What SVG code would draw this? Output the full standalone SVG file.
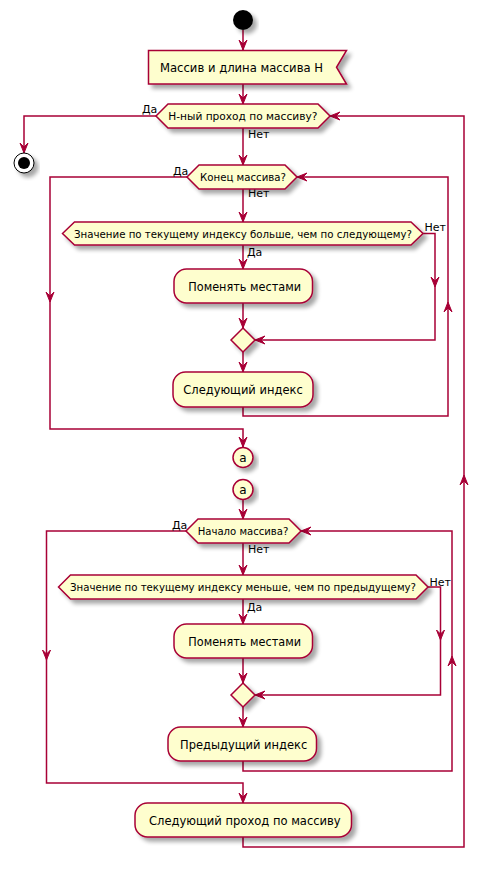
<svg xmlns="http://www.w3.org/2000/svg" xmlns:xlink="http://www.w3.org/1999/xlink" width="489" height="870" viewBox="0 0 489 870">
<style>
.n{fill:#FEFECE;stroke:#A80036;stroke-width:1.5;filter:url(#sh)}
.t{font-family:"DejaVu Sans","Liberation Sans",sans-serif;font-size:12px;fill:#000}
.d{font-family:"DejaVu Sans","Liberation Sans",sans-serif;font-size:11px;fill:#000}
.dl{font-family:"DejaVu Sans","Liberation Sans",sans-serif;font-size:10.4px;fill:#000}
.l{font-family:"DejaVu Sans","Liberation Sans",sans-serif;font-size:11px;fill:#000}
.c{fill:none;stroke:#A80036;stroke-width:1.5}
.a{fill:#A80036;stroke:#A80036;stroke-width:1}
</style>
<defs>
<filter id="sh" x="-20%" y="-20%" width="150%" height="160%">
<feGaussianBlur in="SourceAlpha" stdDeviation="2"/>
<feOffset dx="4" dy="4" result="b"/>
<feComponentTransfer><feFuncA type="linear" slope="0.35"/></feComponentTransfer>
<feMerge><feMergeNode/><feMergeNode in="SourceGraphic"/></feMerge>
</filter>
<path id="ah" d="M-4,-10 L0,0 L4,-10 L0,-6 Z"/>
</defs>
<rect width="489" height="870" fill="#FFFFFF"/>

<g id="connectors">
<path class="c" d="M243,30 V50"/>
<path class="c" d="M243,84 V104"/>
<path class="c" d="M156,116 H24 V153"/>
<path class="c" d="M243,128 V165"/>
<path class="c" d="M187,177 H50 V429 H243 V447"/>
<path class="c" d="M243,189 V222"/>
<path class="c" d="M243,245 V269"/>
<path class="c" d="M423,233.5 H435 V340 H255"/>
<path class="c" d="M243,303 V328"/>
<path class="c" d="M243,352 V372"/>
<path class="c" d="M243,407 V416 H448 V177 H297"/>
<path class="c" d="M243,499.5 V519"/>
<path class="c" d="M186,531 H46.5 V783 H243 V803"/>
<path class="c" d="M243,543 V575"/>
<path class="c" d="M243,599 V624"/>
<path class="c" d="M428,587 H440.5 V695 H255"/>
<path class="c" d="M243,658 V683"/>
<path class="c" d="M243,707 V727"/>
<path class="c" d="M243,761 V771 H452 V531 H301"/>
<path class="c" d="M243,837 V847 H464 V116 H330"/>
<g class="a">
<use xlink:href="#ah" transform="translate(243,50)"/>
<use xlink:href="#ah" transform="translate(243,104)"/>
<use xlink:href="#ah" transform="translate(24,153)"/>
<use xlink:href="#ah" transform="translate(243,165)"/>
<use xlink:href="#ah" transform="translate(50,302)"/>
<use xlink:href="#ah" transform="translate(243,447)"/>
<use xlink:href="#ah" transform="translate(243,222)"/>
<use xlink:href="#ah" transform="translate(243,269)"/>
<use xlink:href="#ah" transform="translate(435,287)"/>
<use xlink:href="#ah" transform="translate(255,340) rotate(90)"/>
<use xlink:href="#ah" transform="translate(243,328)"/>
<use xlink:href="#ah" transform="translate(243,372)"/>
<use xlink:href="#ah" transform="translate(448,302) rotate(180)"/>
<use xlink:href="#ah" transform="translate(297,177) rotate(90)"/>
<use xlink:href="#ah" transform="translate(243,519)"/>
<use xlink:href="#ah" transform="translate(46.5,660)"/>
<use xlink:href="#ah" transform="translate(243,803)"/>
<use xlink:href="#ah" transform="translate(243,575)"/>
<use xlink:href="#ah" transform="translate(243,624)"/>
<use xlink:href="#ah" transform="translate(440.5,640)"/>
<use xlink:href="#ah" transform="translate(255,695) rotate(90)"/>
<use xlink:href="#ah" transform="translate(243,683)"/>
<use xlink:href="#ah" transform="translate(243,727)"/>
<use xlink:href="#ah" transform="translate(452,656) rotate(180)"/>
<use xlink:href="#ah" transform="translate(301,531) rotate(90)"/>
<use xlink:href="#ah" transform="translate(464,475) rotate(180)"/>
<use xlink:href="#ah" transform="translate(330,116) rotate(90)"/>
</g>
<text class="l" x="142" y="113">Да</text>
<text class="l" x="248" y="138">Нет</text>
<text class="l" x="173" y="175">Да</text>
<text class="l" x="248" y="197">Нет</text>
<text class="l" x="424.5" y="231">Нет</text>
<text class="l" x="247" y="256">Да</text>
<text class="l" x="172" y="529">Да</text>
<text class="l" x="248" y="553">Нет</text>
<text class="l" x="429.5" y="585.5">Нет</text>
<text class="l" x="247" y="610.5">Да</text>
</g>

<g id="start">
<circle cx="243" cy="20" r="10" fill="#000" style="filter:url(#sh)"/>
</g>
<g id="input">
<polygon class="n" points="148.5,50.5 346.5,50.5 336.5,67.25 346.5,84 148.5,84"/>
<text class="t" x="160" y="72" textLength="163" lengthAdjust="spacingAndGlyphs">Массив и длина массива Н</text>
</g>
<g id="d1">
<polygon class="n" points="156,116 168,104 318,104 330,116 318,128 168,128"/>
<text class="d" x="168.3" y="120" textLength="149" lengthAdjust="spacingAndGlyphs">Н-ный проход по массиву?</text>
</g>
<g id="stop">
<circle cx="24" cy="163" r="10" fill="#FFFFFF" stroke="#000" stroke-width="1" style="filter:url(#sh)"/>
<circle cx="24" cy="163" r="6" fill="#000"/>
</g>
<g id="d2">
<polygon class="n" points="187,177 199,165 285,165 297,177 285,189 199,189"/>
<text class="d" x="200" y="181" textLength="86" lengthAdjust="spacingAndGlyphs">Конец массива?</text>
</g>
<g id="d3">
<polygon class="n" points="62.5,233.5 74.5,222 411,222 423,233.5 411,245 74.5,245"/>
<text class="dl" x="74" y="237.5" textLength="338" lengthAdjust="spacingAndGlyphs">Значение по текущему индексу больше, чем по следующему?</text>
</g>
<g id="swap1">
<rect class="n" x="174" y="269" width="138.5" height="34" rx="12.5"/>
<text class="t" x="188.3" y="291" textLength="112.7" lengthAdjust="spacingAndGlyphs">Поменять местами</text>
</g>
<g id="merge1">
<polygon class="n" points="243,328 255,340 243,352 231,340"/>
</g>
<g id="next1">
<rect class="n" x="173" y="372" width="140" height="35" rx="12.5"/>
<text class="t" x="183.3" y="394" textLength="119.4" lengthAdjust="spacingAndGlyphs">Следующий индекс</text>
</g>
<g id="a1">
<circle class="n" cx="243" cy="457.5" r="10"/>
<text class="t" x="243" y="461.5" text-anchor="middle">a</text>
</g>
<g id="a2">
<circle class="n" cx="243" cy="489.5" r="10"/>
<text class="t" x="243" y="493.5" text-anchor="middle">a</text>
</g>
<g id="d4">
<polygon class="n" points="186,531 198,519 289,519 301,531 289,543 198,543"/>
<text class="d" x="197.7" y="535" textLength="90.6" lengthAdjust="spacingAndGlyphs">Начало массива?</text>
</g>
<g id="d5">
<polygon class="n" points="58.5,587 70.5,575 416,575 428,587 416,599 70.5,599"/>
<text class="dl" x="70" y="591" textLength="346" lengthAdjust="spacingAndGlyphs">Значение по текущему индексу меньше, чем по предыдущему?</text>
</g>
<g id="swap2">
<rect class="n" x="174" y="624" width="138.5" height="34" rx="12.5"/>
<text class="t" x="188.3" y="646" textLength="112.7" lengthAdjust="spacingAndGlyphs">Поменять местами</text>
</g>
<g id="merge2">
<polygon class="n" points="243,683 255,695 243,707 231,695"/>
</g>
<g id="prev">
<rect class="n" x="168" y="727" width="148.5" height="34" rx="12.5"/>
<text class="t" x="180" y="749" textLength="127.3" lengthAdjust="spacingAndGlyphs">Предыдущий индекс</text>
</g>
<g id="nextpass">
<rect class="n" x="135" y="803" width="216.5" height="34" rx="12.5"/>
<text class="t" x="149" y="825" textLength="191.7" lengthAdjust="spacingAndGlyphs">Следующий проход по массиву</text>
</g>
</svg>
